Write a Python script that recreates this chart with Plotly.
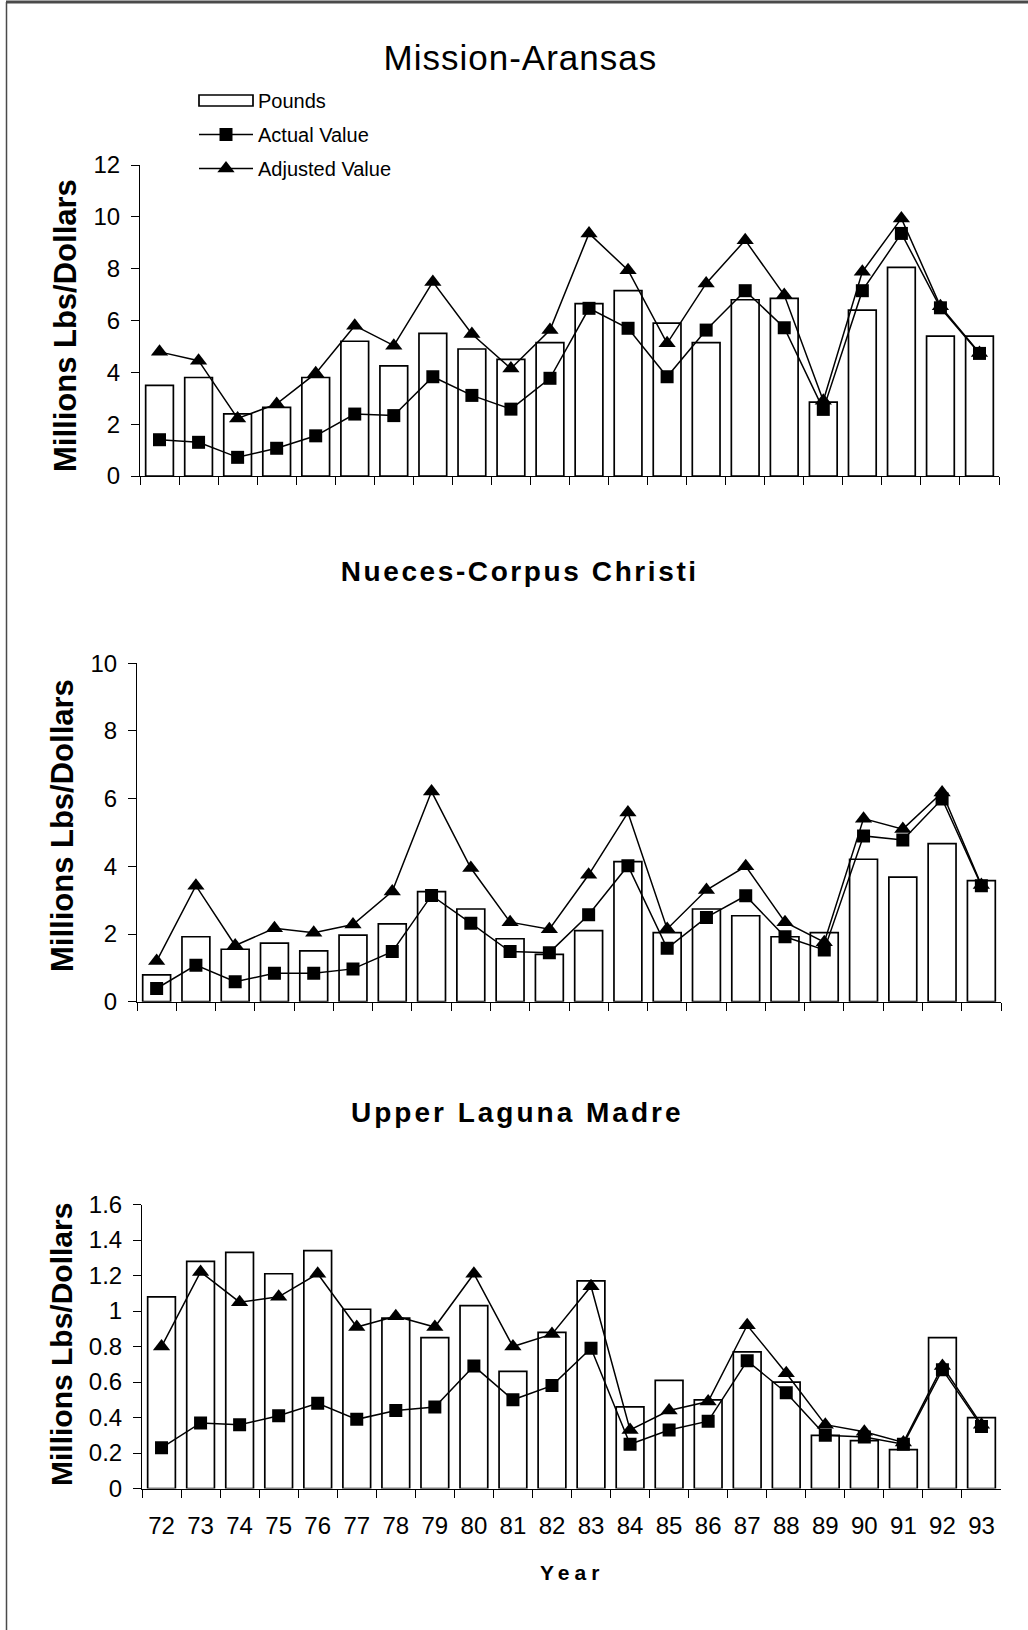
import plotly.graph_objects as go

# ---------------- data ----------------
years = ["72", "73", "74", "75", "76", "77", "78", "79", "80", "81", "82",
         "83", "84", "85", "86", "87", "88", "89", "90", "91", "92", "93"]

panel_titles = ["Mission-Aransas", "Nueces-Corpus Christi", "Upper Laguna Madre"]
series_names = ["Pounds", "Actual Value", "Adjusted Value"]
y_title = "Millions Lbs/Dollars"
x_title = "Year"

# Mission-Aransas
pounds_ma = [3.5, 3.8, 2.4, 2.65, 3.8, 5.2, 4.25, 5.5, 4.9, 4.5, 5.15,
             6.65, 7.15, 5.9, 5.15, 6.8, 6.85, 2.85, 6.4, 8.05, 5.4, 5.4]
actual_ma = [1.4, 1.3, 0.72, 1.07, 1.55, 2.39, 2.33, 3.83, 3.11, 2.58, 3.77,
             6.47, 5.7, 3.83, 5.63, 7.15, 5.72, 2.57, 7.15, 9.36, 6.49, 4.73]
adjusted_ma = [4.79, 4.45, 2.22, 2.78, 3.96, 5.8, 5.03, 7.49, 5.48, 4.15, 5.63,
               9.36, 7.94, 5.12, 7.43, 9.1, 6.98, 2.9, 7.88, 9.94, 6.55, 4.75]

# Nueces-Corpus Christi
pounds_nc = [0.79, 1.92, 1.55, 1.73, 1.5, 1.97, 2.3, 3.25, 2.74, 1.86, 1.4,
             2.1, 4.14, 2.04, 2.74, 2.54, 1.92, 2.04, 4.21, 3.68, 4.67, 3.58]
actual_nc = [0.39, 1.08, 0.59, 0.84, 0.84, 0.97, 1.48, 3.14, 2.32, 1.48, 1.45,
             2.57, 4.02, 1.58, 2.49, 3.13, 1.92, 1.53, 4.9, 4.78, 5.99, 3.43]
adjusted_nc = [1.2, 3.43, 1.66, 2.17, 2.04, 2.28, 3.26, 6.21, 3.95, 2.35, 2.14,
               3.75, 5.59, 2.15, 3.3, 4.0, 2.35, 1.76, 5.41, 5.1, 6.18, 3.45]

# Upper Laguna Madre
pounds_ul = [1.08, 1.28, 1.33, 1.21, 1.34, 1.01, 0.96, 0.85, 1.03, 0.66, 0.88,
             1.17, 0.46, 0.61, 0.5, 0.77, 0.6, 0.3, 0.27, 0.22, 0.85, 0.4]
actual_ul = [0.23, 0.37, 0.36, 0.41, 0.48, 0.39, 0.44, 0.46, 0.69, 0.5, 0.58,
             0.79, 0.25, 0.33, 0.38, 0.72, 0.54, 0.3, 0.29, 0.25, 0.67, 0.35]
adjusted_ul = [0.8, 1.22, 1.05, 1.08, 1.21, 0.91, 0.97, 0.91, 1.21, 0.8, 0.87,
               1.14, 0.33, 0.44, 0.49, 0.92, 0.65, 0.36, 0.32, 0.26, 0.69, 0.36]

y_ranges = [[0, 12], [0, 10], [0, 1.6]]
y_dticks = [2, 2, 0.2]

# ---------------- layout geometry (pixels) ----------------
W, H = 1028, 1630
FONT = "Liberation Sans, Arial, sans-serif"

x_px = [(140, 999), (137, 1001), (142, 1001)]
y_px = [(165, 476), (663.3, 1001.7), (1204.5, 1488.6)]
title_pos = [(520, 57), (519, 571), (517, 1112)]
ytitle_pos = [(66, 326), (63, 826), (61, 1345)]
ytitle_size = [31, 31, 30]

panels = [
    (pounds_ma, actual_ma, adjusted_ma),
    (pounds_nc, actual_nc, adjusted_nc),
    (pounds_ul, actual_ul, adjusted_ul),
]

fig = go.Figure()

for i, (pounds, actual, adjusted) in enumerate(panels):
    xa = "x" if i == 0 else f"x{i+1}"
    ya = "y" if i == 0 else f"y{i+1}"
    show = i == 0
    fig.add_trace(go.Bar(
        x=years, y=pounds, xaxis=xa, yaxis=ya, name=series_names[0],
        legendgroup="pounds", legendrank=1, showlegend=show,
        marker=dict(color="white", line=dict(color="black", width=1.7)),
    ))
    fig.add_trace(go.Scatter(
        x=years, y=adjusted, xaxis=xa, yaxis=ya, name=series_names[2],
        legendgroup="adjusted", legendrank=3, showlegend=show,
        mode="lines+markers", line=dict(color="black", width=1.5),
        marker=dict(symbol="triangle-up", size=15, color="black"),
    ))
    fig.add_trace(go.Scatter(
        x=years, y=actual, xaxis=xa, yaxis=ya, name=series_names[1],
        legendgroup="actual", legendrank=2, showlegend=show,
        mode="lines+markers", line=dict(color="black", width=1.5),
        marker=dict(symbol="square", size=13, color="black"),
    ))

layout = dict(
    width=W, height=H, autosize=False,
    margin=dict(l=0, r=0, t=0, b=0, pad=0, autoexpand=False),
    paper_bgcolor="white", plot_bgcolor="rgba(0,0,0,0)",
    font=dict(family=FONT, color="black"),
    bargap=0.29,
    showlegend=True,
    legend=dict(
        x=194 / W, xanchor="left", y=1 - 81 / H, yanchor="top",
        font=dict(size=20, family=FONT), bgcolor="rgba(0,0,0,0)",
        itemwidth=54, tracegroupgap=5, traceorder="grouped",
    ),
)

n = len(years)
boundaries = [k - 0.5 for k in range(n + 1)]

for i in range(3):
    sfx = "" if i == 0 else str(i + 1)
    ov = str(i + 4)
    x0, x1 = x_px[i]
    yt, yb = y_px[i]
    xdom = [x0 / W, x1 / W]
    ydom = [1 - yb / H, 1 - yt / H]
    layout["xaxis" + sfx] = dict(
        domain=xdom, anchor="y" + sfx, type="category",
        categoryorder="array", categoryarray=years,
        range=[-0.5, n - 0.5], tickson="boundaries",
        ticks="outside", ticklen=8, tickwidth=1, tickcolor="black",
        showline=True, linecolor="black", linewidth=1,
        showgrid=False, zeroline=False, automargin=False,
        showticklabels=(i == 2), tickfont=dict(size=24, family=FONT),
        ticklabelstandoff=16, fixedrange=True,
    )
    layout["yaxis" + sfx] = dict(
        domain=ydom, anchor="x" + sfx, range=y_ranges[i],
        tick0=0, dtick=y_dticks[i],
        ticks="outside", ticklen=8, tickwidth=1, tickcolor="black",
        showline=True, linecolor="black", linewidth=1,
        showgrid=False, zeroline=False, automargin=False,
        tickfont=dict(size=24, family=FONT), ticklabelstandoff=6,
        fixedrange=True,
    )
    # overlay axes giving the inner half of the crossing tick marks
    layout["xaxis" + ov] = dict(
        overlaying="x" + sfx, anchor="y" + sfx, type="linear",
        range=[-0.5, n - 0.5], tickmode="array", tickvals=boundaries,
        ticks="inside", ticklen=8, tickwidth=1, tickcolor="black",
        showticklabels=False, showline=False, showgrid=False, zeroline=False,
        automargin=False, fixedrange=True,
    )
    layout["yaxis" + ov] = dict(
        overlaying="y" + sfx, anchor="x" + sfx, side="left",
        range=y_ranges[i], tick0=0, dtick=y_dticks[i],
        ticks="inside", ticklen=8, tickwidth=1, tickcolor="black",
        showticklabels=False, showline=False, showgrid=False, zeroline=False,
        automargin=False, fixedrange=True,
    )

annotations = []
for i in range(3):
    tx, ty = title_pos[i]
    annotations.append(dict(
        text=panel_titles[i], x=tx / W, y=1 - ty / H, xref="paper", yref="paper",
        xanchor="center", yanchor="middle", showarrow=False,
        font=dict(size=35 if i == 0 else 28, family=FONT,
                  weight="normal" if i == 0 else "bold"),
    ))
    yx, yy = ytitle_pos[i]
    annotations.append(dict(
        text=y_title, x=yx / W, y=1 - yy / H, xref="paper", yref="paper",
        xanchor="center", yanchor="middle", showarrow=False, textangle=-90,
        font=dict(size=ytitle_size[i], family=FONT, weight="bold"),
    ))
annotations.append(dict(
    text=x_title, x=572 / W, y=1 - 1572 / H, xref="paper", yref="paper",
    xanchor="center", yanchor="middle", showarrow=False,
    font=dict(size=21, family=FONT, weight="bold"),
))
layout["annotations"] = annotations

layout["shapes"] = [
    dict(type="line", xref="paper", yref="paper", x0=6.5 / W, x1=6.5 / W,
         y0=1 - 2 / H, y1=0, line=dict(color="#4a4a4a", width=1.5)),
    dict(type="line", xref="paper", yref="paper", x0=6 / W, x1=1,
         y0=1 - 2 / H, y1=1 - 2 / H, line=dict(color="#4a4a4a", width=3)),
]

fig.update_layout(**layout)

post = """
document.documentElement.style.margin = '0';
document.documentElement.style.padding = '0';
document.documentElement.style.overflow = 'hidden';
document.body.style.margin = '0';
document.body.style.padding = '0';
document.body.style.overflow = 'hidden';
var gd = document.getElementById('{plot_id}');
function applyStyle() {
  var m = {'Mission-Aransas': '1px', 'Nueces-Corpus Christi': '2.6px',
           'Upper Laguna Madre': '3px', 'Year': '5px'};
  gd.querySelectorAll('text.annotation-text').forEach(function (t) {
    var k = t.textContent;
    if (m[k] !== undefined) { t.style.letterSpacing = m[k]; }
  });
  try {
    // wide rectangular legend key for the bar series, like the original
    gd.querySelectorAll('g.traces').forEach(function (g) {
      var txt = g.querySelector('text.legendtext');
      if (txt && txt.textContent === 'Pounds') {
        g.querySelectorAll('g.legendpoints path').forEach(function (p) {
          p.setAttribute('d', 'M27,5.5H-27V-5.5H27Z');
        });
      }
    });
  } catch (e) {}
}
applyStyle();
gd.on('plotly_afterplot', applyStyle);
setTimeout(applyStyle, 50);
setTimeout(applyStyle, 300);
"""

fig.write_html("out.html", config={"displayModeBar": False}, post_script=post)
